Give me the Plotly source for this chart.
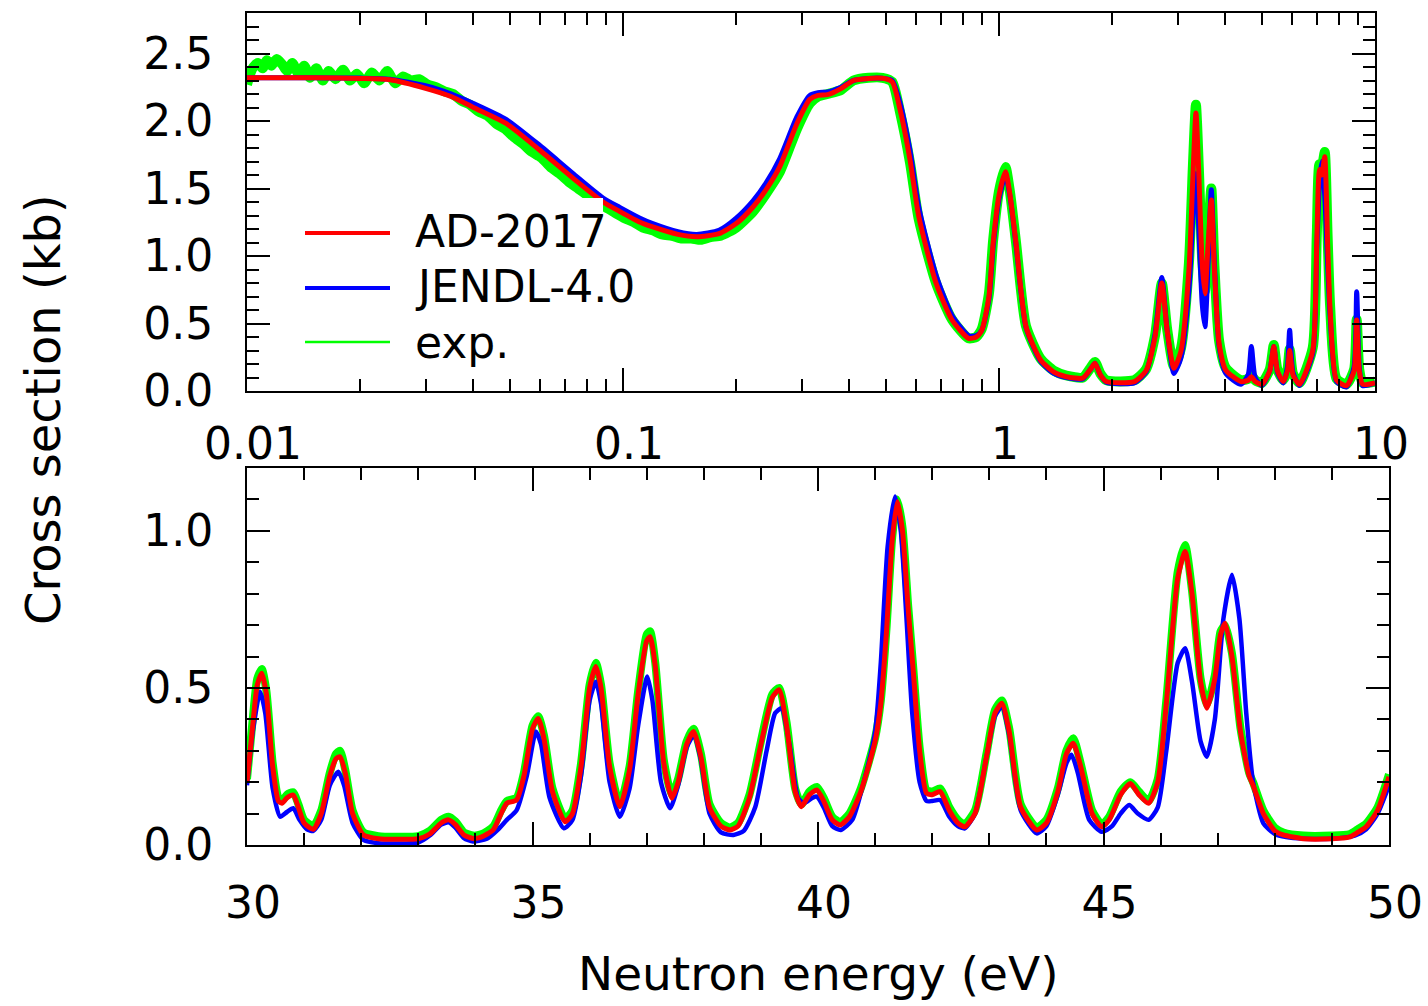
import plotly.graph_objects as go

W, H = 1428, 1006

# ---------------- top panel (0.01 - 10 eV, log) ----------------
top_e_ad = [0.01, 0.012, 0.015, 0.02, 0.024, 0.03, 0.035, 0.04, 0.049, 0.06, 0.0737, 0.0885, 0.098,
            0.111, 0.12, 0.14, 0.157, 0.18, 0.2, 0.222, 0.24, 0.261, 0.29, 0.314, 0.33, 0.35, 0.38,
            0.41, 0.45, 0.49, 0.52, 0.546, 0.58, 0.612, 0.68, 0.75, 0.83, 0.87, 0.9, 0.94, 0.965,
            1.0, 1.04, 1.07, 1.11, 1.18, 1.29, 1.4, 1.51, 1.67, 1.75, 1.8, 1.86, 1.93, 2.29, 2.46,
            2.6, 2.71, 2.8, 2.92, 3.05, 3.2, 3.28, 3.34, 3.4, 3.47, 3.53, 3.6, 3.67, 3.74, 3.85,
            4.01, 4.4, 4.6, 4.69, 4.8, 5.0, 5.25, 5.38, 5.5, 5.7, 5.85, 5.93, 6.05, 6.3, 6.83,
            7.0, 7.12, 7.22, 7.35, 7.48, 7.6, 7.9, 8.4, 8.8, 8.94, 9.08, 9.27, 10.0]
top_xs_ad = [2.32, 2.32, 2.32, 2.315, 2.305, 2.24, 2.18, 2.10, 1.98, 1.785, 1.575, 1.40, 1.33,
             1.25, 1.215, 1.16, 1.143, 1.165, 1.24, 1.365, 1.49, 1.66, 1.98, 2.16, 2.19, 2.195, 2.24,
             2.30, 2.315, 2.316, 2.29, 2.08, 1.71, 1.29, 0.80, 0.526, 0.39, 0.40, 0.45, 0.70, 1.10,
             1.45, 1.625, 1.45, 1.094, 0.476, 0.23, 0.14, 0.106, 0.095, 0.16, 0.205, 0.12, 0.07, 0.07, 0.15,
             0.40, 0.80, 0.45, 0.168, 0.30, 0.90, 1.60, 2.06, 1.60, 0.95, 0.72, 1.10, 1.415, 0.90, 0.35,
             0.155, 0.07, 0.08, 0.106, 0.07, 0.05, 0.15, 0.33, 0.15, 0.07, 0.15, 0.30, 0.12, 0.05, 0.30,
             1.10, 1.64, 1.60, 1.735, 1.10, 0.59, 0.08, 0.04, 0.15, 0.526, 0.15, 0.05, 0.06]

top_e_jendl = [0.01, 0.012, 0.015, 0.02, 0.024, 0.03, 0.035, 0.04, 0.049, 0.06, 0.0737, 0.0885, 0.098,
               0.111, 0.12, 0.14, 0.157, 0.18, 0.2, 0.222, 0.24, 0.261, 0.29, 0.314, 0.33, 0.35, 0.38,
               0.41, 0.45, 0.49, 0.52, 0.546, 0.58, 0.612, 0.68, 0.75, 0.83, 0.87, 0.9, 0.94, 0.965,
               1.0, 1.04, 1.07, 1.11, 1.18, 1.29, 1.4, 1.51, 1.67, 1.75, 1.8, 1.86, 1.93, 2.29, 2.46,
               2.6, 2.71, 2.8, 2.92, 3.05, 3.2, 3.28, 3.34, 3.4, 3.47, 3.53, 3.6, 3.67, 3.74, 3.85,
               4.01, 4.4, 4.6, 4.69, 4.8, 5.0, 5.25, 5.38, 5.5, 5.7, 5.85, 5.93, 6.05, 6.3, 6.83,
               7.0, 7.12, 7.22, 7.35, 7.48, 7.6, 7.9, 8.4, 8.8, 8.94, 9.08, 9.27, 10.0]
top_xs_jendl = [2.32, 2.32, 2.32, 2.318, 2.31, 2.26, 2.20, 2.13, 2.01, 1.82, 1.61, 1.43, 1.36,
                1.28, 1.24, 1.18, 1.16, 1.19, 1.28, 1.41, 1.54, 1.72, 2.03, 2.19, 2.21, 2.215, 2.25,
                2.30, 2.315, 2.316, 2.30, 2.13, 1.78, 1.36, 0.86, 0.56, 0.41, 0.41, 0.45, 0.68, 1.07,
                1.42, 1.60, 1.44, 1.08, 0.47, 0.22, 0.13, 0.10, 0.09, 0.16, 0.205, 0.12, 0.065, 0.06, 0.14,
                0.42, 0.84, 0.45, 0.13, 0.25, 0.75, 1.30, 1.61, 1.20, 0.65, 0.476, 0.95, 1.49, 0.95, 0.33,
                0.13, 0.05, 0.12, 0.33, 0.10, 0.04, 0.15, 0.33, 0.14, 0.06, 0.18, 0.45, 0.14, 0.04, 0.28,
                1.05, 1.55, 1.70, 1.45, 0.95, 0.55, 0.07, 0.03, 0.18, 0.735, 0.18, 0.04, 0.06]

top_e_exp = [0.0100, 0.0102, 0.0104, 0.0107, 0.0110, 0.0113, 0.0116, 0.0120, 0.0124, 0.0128, 0.0132,
             0.0137, 0.0142, 0.0147, 0.0153, 0.0159, 0.0165, 0.0172, 0.0180, 0.0188, 0.0196, 0.0205,
             0.0215, 0.0225, 0.0236, 0.0248, 0.0260, 0.0273, 0.0287, 0.0302, 0.0318, 0.0335, 0.0353,
             0.0372, 0.0392, 0.0413, 0.0436, 0.0460, 0.0486, 0.0513, 0.0542, 0.0573, 0.0606, 0.0641,
             0.0678, 0.0717, 0.0759, 0.0803, 0.0850, 0.0900, 0.0953, 0.101, 0.107, 0.113, 0.120,
             0.127, 0.135, 0.143, 0.152, 0.161, 0.171, 0.182, 0.2, 0.222, 0.24, 0.261, 0.29, 0.314,
             0.33, 0.35, 0.38, 0.41, 0.45, 0.49, 0.52, 0.546, 0.58, 0.612, 0.68, 0.75, 0.83, 0.87,
             0.9, 0.94, 0.965, 1.0, 1.04, 1.07, 1.11, 1.18, 1.29, 1.4, 1.51, 1.67, 1.75, 1.8, 1.86,
             1.93, 2.29, 2.46, 2.6, 2.71, 2.8, 2.92, 3.05, 3.2, 3.28, 3.34, 3.4, 3.47, 3.53, 3.6,
             3.67, 3.74, 3.85, 4.01, 4.4, 4.6, 4.69, 4.8, 5.0, 5.25, 5.38, 5.5, 5.7, 5.85, 5.93, 6.05,
             6.3, 6.83, 7.0, 7.12, 7.22, 7.35, 7.48, 7.6, 7.9, 8.4, 8.8, 8.94, 9.08, 9.27, 10.0]
top_xs_exp = [2.27, 2.35, 2.40, 2.43, 2.39, 2.45, 2.41, 2.46, 2.42, 2.37, 2.43,
              2.35, 2.41, 2.32, 2.39, 2.30, 2.37, 2.31, 2.38, 2.30, 2.35, 2.28,
              2.36, 2.30, 2.37, 2.28, 2.33, 2.30, 2.31, 2.27, 2.25, 2.22, 2.20,
              2.15, 2.12, 2.07, 2.04, 1.98, 1.94, 1.88, 1.83, 1.77, 1.73, 1.66,
              1.61, 1.55, 1.50, 1.45, 1.41, 1.36, 1.32, 1.28, 1.25, 1.21, 1.19,
              1.16, 1.15, 1.13, 1.13, 1.12, 1.14, 1.15, 1.21, 1.33, 1.46, 1.62, 1.94, 2.13,
              2.18, 2.20, 2.23, 2.30, 2.32, 2.32, 2.29, 2.06, 1.69, 1.27, 0.80, 0.53, 0.39, 0.40,
              0.46, 0.72, 1.12, 1.48, 1.66, 1.47, 1.10, 0.48, 0.24, 0.15, 0.115, 0.10, 0.17, 0.215, 0.13,
              0.08, 0.08, 0.16, 0.41, 0.80, 0.46, 0.18, 0.32, 0.95, 1.68, 2.12, 1.65, 0.98, 0.74, 1.15,
              1.50, 0.93, 0.37, 0.17, 0.08, 0.09, 0.115, 0.08, 0.06, 0.16, 0.34, 0.16, 0.08, 0.16, 0.31, 0.13,
              0.06, 0.32, 1.15, 1.68, 1.66, 1.77, 1.15, 0.62, 0.09, 0.05, 0.16, 0.53, 0.16, 0.06, 0.07]

# ---------------- bottom panel (30 - 50 eV, linear) ----------------
bot_e_ad = [30.0, 30.1, 30.18, 30.26, 30.34, 30.45, 30.55, 30.61, 30.7, 30.81, 30.9, 31.0, 31.16,
            31.3, 31.45, 31.56, 31.63, 31.72, 31.85, 32.04, 32.3, 32.6, 33.0, 33.2, 33.4, 33.53,
            33.65, 33.8, 33.96, 34.1, 34.31, 34.45, 34.55, 34.72, 34.85, 35.0, 35.1, 35.2, 35.35,
            35.57, 35.7, 35.85, 36.0, 36.11, 36.2, 36.35, 36.53, 36.7, 36.85, 37.0, 37.06, 37.15,
            37.3, 37.44, 37.55, 37.7, 37.82, 37.95, 38.1, 38.3, 38.46, 38.6, 38.8, 39.0, 39.2,
            39.32, 39.45, 39.6, 39.71, 39.85, 39.98, 40.1, 40.25, 40.39, 40.55, 40.75, 41.0, 41.1,
            41.2, 41.3, 41.39, 41.48, 41.58, 41.67, 41.78, 41.9, 42.0, 42.14, 42.3, 42.45, 42.57,
            42.75, 42.95, 43.1, 43.22, 43.35, 43.55, 43.83, 44.0, 44.2, 44.35, 44.47, 44.6, 44.8,
            44.97, 45.1, 45.3, 45.47, 45.62, 45.79, 45.95, 46.1, 46.3, 46.43, 46.55, 46.7, 46.81,
            46.95, 47.05, 47.13, 47.25, 47.4, 47.55, 47.62, 47.8, 48.0, 48.15, 48.5, 49.0, 49.3,
            49.45, 49.6, 49.8, 50.0]
bot_xs_ad = [0.20, 0.38, 0.51, 0.547, 0.48, 0.25, 0.14, 0.133, 0.15, 0.159, 0.12, 0.07, 0.05,
             0.10, 0.22, 0.275, 0.281, 0.23, 0.10, 0.032, 0.02, 0.018, 0.02, 0.035, 0.07, 0.08,
             0.065, 0.032, 0.021, 0.025, 0.048, 0.10, 0.133, 0.143, 0.22, 0.37, 0.403, 0.34, 0.17,
             0.074, 0.10, 0.25, 0.50, 0.568, 0.50, 0.25, 0.122, 0.24, 0.48, 0.65, 0.663, 0.57,
             0.26, 0.149, 0.20, 0.32, 0.361, 0.28, 0.12, 0.06, 0.048, 0.06, 0.15, 0.32, 0.47,
             0.494, 0.38, 0.17, 0.122, 0.16, 0.175, 0.14, 0.08, 0.064, 0.09, 0.17, 0.33, 0.45,
             0.68, 0.97, 1.093, 1.00, 0.75, 0.55, 0.30, 0.165, 0.16, 0.17, 0.11, 0.07, 0.058,
             0.10, 0.28, 0.42, 0.451, 0.36, 0.12, 0.048, 0.07, 0.17, 0.29, 0.324, 0.25, 0.10,
             0.058, 0.08, 0.16, 0.196, 0.16, 0.133, 0.20, 0.45, 0.85, 0.934, 0.80, 0.52, 0.435,
             0.53, 0.67, 0.706, 0.60, 0.36, 0.22, 0.19, 0.10, 0.045, 0.032, 0.02, 0.02, 0.025,
             0.04, 0.058, 0.11, 0.217]

bot_e_jendl = [30.0, 30.1, 30.23, 30.32, 30.45, 30.58, 30.7, 30.81, 30.92, 31.05, 31.16, 31.3, 31.45,
               31.6, 31.7, 31.85, 32.04, 32.3, 33.0, 33.2, 33.4, 33.53, 33.65, 33.8, 33.96, 34.2,
               34.4, 34.55, 34.72, 34.9, 35.06, 35.15, 35.3, 35.55, 35.7, 35.85, 36.0, 36.11, 36.2,
               36.35, 36.53, 36.7, 36.85, 37.01, 37.1, 37.25, 37.41, 37.55, 37.7, 37.83, 37.95, 38.1,
               38.3, 38.52, 38.7, 38.9, 39.1, 39.25, 39.36, 39.5, 39.65, 39.75, 39.9, 39.98, 40.1,
               40.25, 40.4, 40.6, 40.8, 41.0, 41.1, 41.22, 41.35, 41.45, 41.55, 41.65, 41.78, 41.9,
               42.0, 42.14, 42.3, 42.45, 42.57, 42.75, 42.95, 43.1, 43.22, 43.35, 43.55, 43.83, 44.0,
               44.2, 44.35, 44.44, 44.55, 44.75, 44.97, 45.15, 45.3, 45.45, 45.6, 45.79, 45.95, 46.1,
               46.3, 46.43, 46.55, 46.7, 46.81, 46.95, 47.1, 47.25, 47.38, 47.5, 47.62, 47.8, 48.0,
               48.2, 48.5, 49.0, 49.4, 49.6, 49.8, 50.0]
bot_xs_jendl = [0.19, 0.36, 0.488, 0.42, 0.18, 0.09, 0.105, 0.117, 0.08, 0.05, 0.045, 0.08, 0.19,
                0.233, 0.19, 0.07, 0.016, 0.006, 0.008, 0.03, 0.065, 0.072, 0.055, 0.022, 0.011, 0.02,
                0.05, 0.08, 0.11, 0.22, 0.361, 0.32, 0.15, 0.053, 0.08, 0.22, 0.46, 0.52, 0.45,
                0.20, 0.09, 0.18, 0.38, 0.536, 0.46, 0.20, 0.117, 0.19, 0.31, 0.35, 0.27, 0.10,
                0.04, 0.032, 0.045, 0.12, 0.30, 0.42, 0.435, 0.32, 0.15, 0.133, 0.15, 0.154, 0.12,
                0.06, 0.048, 0.08, 0.20, 0.36, 0.58, 0.95, 1.109, 1.00, 0.72, 0.42, 0.20, 0.14,
                0.14, 0.143, 0.09, 0.06, 0.053, 0.10, 0.28, 0.41, 0.44, 0.35, 0.11, 0.037, 0.06,
                0.16, 0.26, 0.287, 0.23, 0.08, 0.042, 0.06, 0.10, 0.127, 0.10, 0.08, 0.12, 0.30,
                0.58, 0.626, 0.52, 0.33, 0.281, 0.40, 0.72, 0.86, 0.72, 0.42, 0.20, 0.069, 0.035,
                0.025, 0.02, 0.02, 0.03, 0.05, 0.10, 0.19]

bot_e_exp = bot_e_ad
bot_xs_exp = [0.21, 0.40, 0.53, 0.56, 0.49, 0.26, 0.15, 0.14, 0.16, 0.168, 0.13, 0.08, 0.06,
              0.11, 0.23, 0.29, 0.30, 0.24, 0.11, 0.04, 0.028, 0.026, 0.028, 0.045, 0.08, 0.09,
              0.075, 0.04, 0.03, 0.034, 0.058, 0.11, 0.14, 0.15, 0.23, 0.38, 0.41, 0.35, 0.18,
              0.084, 0.11, 0.26, 0.51, 0.58, 0.51, 0.26, 0.13, 0.25, 0.49, 0.67, 0.68, 0.58,
              0.27, 0.158, 0.21, 0.33, 0.37, 0.29, 0.13, 0.07, 0.056, 0.07, 0.16, 0.33, 0.48,
              0.50, 0.39, 0.18, 0.13, 0.17, 0.185, 0.15, 0.09, 0.073, 0.10, 0.18, 0.34, 0.46,
              0.69, 0.98, 1.10, 1.01, 0.76, 0.56, 0.31, 0.175, 0.17, 0.18, 0.12, 0.08, 0.066,
              0.11, 0.29, 0.43, 0.46, 0.37, 0.13, 0.056, 0.08, 0.18, 0.30, 0.34, 0.26, 0.11,
              0.066, 0.09, 0.17, 0.20, 0.17, 0.14, 0.21, 0.46, 0.87, 0.955, 0.81, 0.53, 0.445,
              0.54, 0.68, 0.70, 0.61, 0.37, 0.23, 0.20, 0.11, 0.055, 0.04, 0.03, 0.03, 0.034,
              0.05, 0.068, 0.12, 0.225]

legend_labels = ["AD-2017", "JENDL-4.0", "exp."]
colors = {"AD-2017": "#ff0000", "JENDL-4.0": "#0000ff", "exp.": "#00ff00"}

top_yticks = [0.0, 0.5, 1.0, 1.5, 2.0, 2.5]
top_xticks = [0.01, 0.1, 1, 10]
top_xticktext = ["0.01", "0.1", "1", "10"]
bot_xticks = [30, 35, 40, 45, 50]
bot_yticks = [0.0, 0.5, 1.0]

FONT = "DejaVu Sans"


def px_x(p):
    return p / W


def px_y(p):
    return 1 - p / H


fig = go.Figure()

# top panel traces
fig.add_trace(go.Scatter(x=top_e_exp, y=top_xs_exp, mode="lines",
                         line=dict(color=colors["exp."], width=10, shape="spline", smoothing=0.6),
                         name="exp.", xaxis="x", yaxis="y", showlegend=False))
fig.add_trace(go.Scatter(x=top_e_jendl, y=top_xs_jendl, mode="lines",
                         line=dict(color=colors["JENDL-4.0"], width=5, shape="spline", smoothing=0.6),
                         name="JENDL-4.0", xaxis="x", yaxis="y", showlegend=False))
fig.add_trace(go.Scatter(x=top_e_ad, y=top_xs_ad, mode="lines",
                         line=dict(color=colors["AD-2017"], width=5, shape="spline", smoothing=0.6),
                         name="AD-2017", xaxis="x", yaxis="y", showlegend=False))

# bottom panel traces
fig.add_trace(go.Scatter(x=bot_e_exp, y=bot_xs_exp, mode="lines",
                         line=dict(color=colors["exp."], width=8, shape="spline", smoothing=0.6),
                         name="exp.", xaxis="x2", yaxis="y2", showlegend=False))
fig.add_trace(go.Scatter(x=bot_e_jendl, y=bot_xs_jendl, mode="lines",
                         line=dict(color=colors["JENDL-4.0"], width=4.5, shape="spline", smoothing=0.6),
                         name="JENDL-4.0", xaxis="x2", yaxis="y2", showlegend=False))
fig.add_trace(go.Scatter(x=bot_e_ad, y=bot_xs_ad, mode="lines",
                         line=dict(color=colors["AD-2017"], width=5, shape="spline", smoothing=0.6),
                         name="AD-2017", xaxis="x2", yaxis="y2", showlegend=False))

tickfont = dict(family=FONT, size=44, color="black")
common = dict(showline=True, linecolor="black", linewidth=2, mirror="ticks", ticks="inside",
              ticklen=23, tickwidth=2, tickcolor="black", showgrid=False, zeroline=False,
              tickfont=tickfont, automargin=False)

top_minor_x = [m * d for d in (0.01, 0.1, 1) for m in range(2, 10)]

fig.update_layout(
    width=W, height=H,
    margin=dict(l=0, r=0, t=0, b=0, autoexpand=False),
    paper_bgcolor="white", plot_bgcolor="white",
    showlegend=False,
    xaxis=dict(domain=[px_x(247), px_x(1375)], anchor="y", type="log", range=[-2, 1],
               tickvals=top_xticks, ticktext=top_xticktext, ticklabelstandoff=13, ticklabelshift=6,
               minor=dict(tickvals=top_minor_x, ticks="inside", ticklen=12, tickwidth=2, tickcolor="black"),
               **common),
    yaxis=dict(domain=[px_y(391), px_y(13)], anchor="x", range=[0, 2.8],
               tickvals=top_yticks, ticktext=[f"{v:.1f}" for v in top_yticks], ticklabelstandoff=23,
               minor=dict(dtick=0.1, ticks="inside", ticklen=12, tickwidth=2, tickcolor="black"),
               **common),
    xaxis2=dict(domain=[px_x(247), px_x(1389)], anchor="y2", range=[30, 50],
                tickvals=bot_xticks, ticktext=[str(v) for v in bot_xticks], ticklabelstandoff=18,
                ticklabelshift=6,
                minor=dict(dtick=1, ticks="inside", ticklen=12, tickwidth=2, tickcolor="black"),
                **common),
    yaxis2=dict(domain=[px_y(845), px_y(468)], anchor="x2", range=[0, 1.2],
                tickvals=bot_yticks, ticktext=[f"{v:.1f}" for v in bot_yticks], ticklabelstandoff=23,
                minor=dict(dtick=0.1, ticks="inside", ticklen=12, tickwidth=2, tickcolor="black"),
                **common),
)

# legend (drawn manually to match long line samples)
shapes = [dict(type="rect", xref="paper", yref="paper", x0=px_x(295), x1=px_x(603),
               y0=px_y(372), y1=px_y(198), fillcolor="white", line=dict(width=0), layer="above")]
leg_rows = [233, 288, 342]
leg_widths = [4, 4, 2.5]
for lab, yy, lw in zip(legend_labels, leg_rows, leg_widths):
    shapes.append(dict(type="line", xref="paper", yref="paper", x0=px_x(305), x1=px_x(390),
                       y0=px_y(yy), y1=px_y(yy), line=dict(color=colors[lab], width=lw), layer="above"))
fig.update_layout(shapes=shapes)

annotations = []
for lab, yy in zip(legend_labels, [231, 287, 343]):
    annotations.append(dict(text=lab, xref="paper", yref="paper", x=px_x(413), y=px_y(yy),
                            xanchor="left", yanchor="middle", showarrow=False,
                            font=dict(family=FONT, size=44, color="black")))
annotations.append(dict(text="Neutron energy (eV)", xref="paper", yref="paper", x=px_x(818), y=px_y(973),
                        xanchor="center", yanchor="middle", showarrow=False,
                        font=dict(family=FONT, size=47, color="black")))
annotations.append(dict(text="Cross section (kb)", xref="paper", yref="paper", x=px_x(43), y=px_y(410),
                        xanchor="center", yanchor="middle", showarrow=False, textangle=-90,
                        font=dict(family=FONT, size=48, color="black")))
fig.update_layout(annotations=annotations)

fig.write_html("out.html")
